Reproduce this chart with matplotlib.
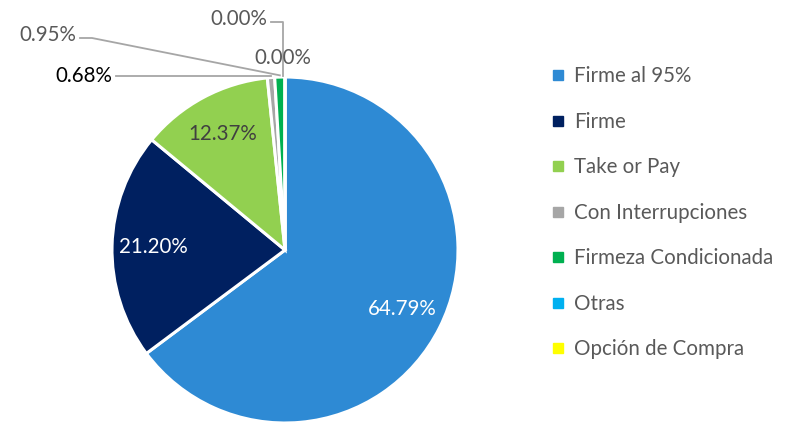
import numpy as np
import matplotlib.pyplot as plt
from matplotlib.lines import Line2D

plt.rcParams['font.family'] = ['Lato', 'DejaVu Sans']

categorias = ['Firme al 95%', 'Firme', 'Take or Pay', 'Con Interrupciones',
              'Firmeza Condicionada', 'Otras', 'Opción de Compra']
porcentajes = [64.79, 21.20, 12.37, 0.68, 0.95, 0.00, 0.00]
colores = ['#2E8AD4', '#002060', '#92D050', '#A6A6A6', '#00B050', '#00B0F0', '#FFFF00']

W, H = 788, 423
fig = plt.figure(figsize=(W / 100, H / 100), dpi=100)
fs = 14.8

# pie centred at (285, 250) px with radius 173 px
cx, cy, r = 285, 250, 173
ax = fig.add_axes([(cx - r) / W, (H - cy - r) / H, 2 * r / W, 2 * r / H])

wedges, _ = ax.pie(porcentajes, colors=colores, startangle=90, counterclock=False,
                   radius=1, wedgeprops=dict(edgecolor='white', linewidth=2.2))
ax.set_xlim(-1, 1)
ax.set_ylim(-1, 1)
ax.axis('off')

gris = '#595959'
linea = '#A6A6A6'

# labels inside the large slices
for w, p, c in zip(wedges, porcentajes, colores):
    if p < 5:
        continue
    ang = np.deg2rad((w.theta1 + w.theta2) / 2)
    col = 'white' if c in ('#2E8AD4', '#002060') else '#404040'
    ax.text(0.76 * np.cos(ang), 0.76 * np.sin(ang), f'{p:.2f}%',
            ha='center', va='center', fontsize=fs, color=col)


def borde(i):
    w = wedges[i]
    ang = np.deg2rad((w.theta1 + w.theta2) / 2)
    return np.cos(ang), np.sin(ang)


def px(x, y):
    return (x - cx) / r, (cy - y) / r


# Con Interrupciones
x0, y0 = borde(3)
tx, ty = px(116, 76)
ax.plot([tx, x0], [ty, ty], color=linea, lw=1.3, clip_on=False)
ax.text(tx - 0.02, ty, f'{porcentajes[3]:.2f}%', ha='right', va='center',
        fontsize=fs, color='black', clip_on=False)

# Firmeza Condicionada
x1, y1 = borde(4)
tx, ty = px(80, 38)
kx, _ = px(92, 38)
ax.plot([tx, kx, x1], [ty, ty, y1 + 0.01], color=linea, lw=1.3, clip_on=False)
ax.text(tx - 0.02, ty + 0.02, f'{porcentajes[4]:.2f}%', ha='right', va='center',
        fontsize=fs, color=gris, clip_on=False)

# Otras
x2, y2 = borde(5)
tx, ty = px(271, 22)
kx, _ = px(283, 22)
ax.plot([tx, kx, kx], [ty, ty, y2 + 0.005], color=linea, lw=1.3, clip_on=False)
ax.text(tx - 0.02, ty + 0.02, f'{porcentajes[5]:.2f}%', ha='right', va='center',
        fontsize=fs, color=gris, clip_on=False)

# Opción de Compra
tx, ty = px(283, 58)
ax.text(tx, ty, f'{porcentajes[6]:.2f}%', ha='center', va='center',
        fontsize=fs, color=gris, clip_on=False)

handles = [Line2D([], [], marker='s', linestyle='none', markersize=7,
                  markerfacecolor=c, markeredgecolor=c) for c in colores]
leg = fig.legend(handles, categorias, loc='upper left',
                 bbox_to_anchor=(533 / W, 1 - 48 / H), frameon=False,
                 fontsize=fs, labelspacing=1.24, handlelength=0.6,
                 handletextpad=0.5, labelcolor=gris)

fig.savefig('out.png', dpi=100)
